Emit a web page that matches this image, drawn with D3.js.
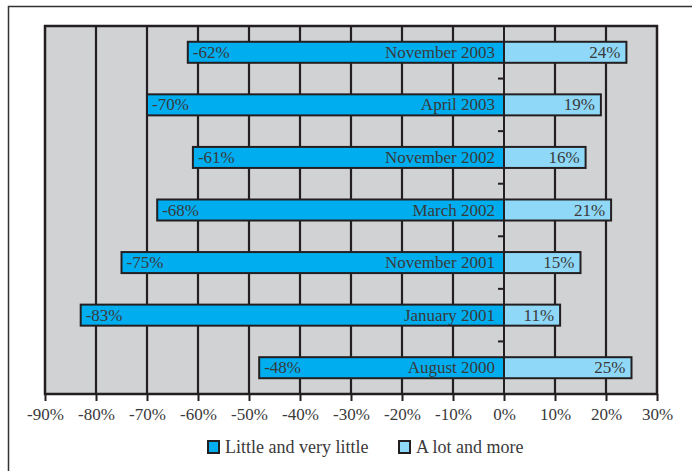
<!DOCTYPE html>
<html><head><meta charset="utf-8">
<script src="https://cdn.jsdelivr.net/npm/d3@7"></script>
<style>body{margin:0;background:#fff;} svg{display:block;}</style>
</head><body>
<svg id="c" width="692" height="471"></svg>
<script>
const categories = ["November 2003","April 2003","November 2002","March 2002","November 2001","January 2001","August 2000"];
const littleValues = [-62,-70,-61,-68,-75,-83,-48];
const lotValues = [24,19,16,21,15,11,25];
const tickValues = [-90,-80,-70,-60,-50,-40,-30,-20,-10,0,10,20,30];
const seriesNames = ["Little and very little","A lot and more"];
const colors = ["#00adef","#8fd8f7"];

const svg = d3.select("#c");
const L=45,R=657,T=26,B=394;
const x = d3.scaleLinear().domain([-90,30]).range([L,R]);
const y = d3.scaleBand().domain(categories).range([T,B]).paddingInner(0.6).paddingOuter(0.3);
const dark="#231f20", txt="#3a3a3a", font="'Liberation Serif', 'Times New Roman', serif";

// outer frame
svg.append("rect").attr("x",8.5).attr("y",6.5).attr("width",720).attr("height",500)
  .attr("fill","none").attr("stroke","#333").attr("stroke-width",1.5);

svg.append("rect").attr("x",L).attr("y",T).attr("width",R-L).attr("height",B-T).attr("fill","#d1d2d4");

// gridlines
svg.append("g").selectAll("line").data(tickValues.filter(v=>v>-90&&v<30&&v!==0)).join("line")
  .attr("x1",d=>x(d)).attr("x2",d=>x(d)).attr("y1",T).attr("y2",B)
  .attr("stroke",dark).attr("stroke-width",2.2);

const data = categories.map((c,i)=>({c,neg:littleValues[i],pos:lotValues[i]}));
const g = svg.append("g");
g.selectAll("rect.n").data(data).join("rect").attr("class","n")
  .attr("x",d=>x(d.neg)).attr("width",d=>x(0)-x(d.neg))
  .attr("y",d=>y(d.c)).attr("height",y.bandwidth())
  .attr("fill",colors[0]).attr("stroke",dark).attr("stroke-width",2);
g.selectAll("rect.p").data(data).join("rect").attr("class","p")
  .attr("x",x(0)).attr("width",d=>x(d.pos)-x(0))
  .attr("y",d=>y(d.c)).attr("height",y.bandwidth())
  .attr("fill",colors[1]).attr("stroke",dark).attr("stroke-width",2);

// plot border
svg.append("rect").attr("x",L).attr("y",T).attr("width",R-L).attr("height",B-T)
  .attr("fill","none").attr("stroke",dark).attr("stroke-width",2.5);

// zero axis
svg.append("line").attr("x1",x(0)).attr("x2",x(0)).attr("y1",T).attr("y2",B)
  .attr("stroke",dark).attr("stroke-width",2);
const step = y.step();
const bounds = categories.slice(1).map(c=>y(c)-(step-y.bandwidth())/2);
svg.append("g").selectAll("line").data(bounds).join("line")
  .attr("x1",x(0)-6).attr("x2",x(0)).attr("y1",d=>d).attr("y2",d=>d)
  .attr("stroke",dark).attr("stroke-width",2);

// bottom axis
const xAxis = svg.append("g").attr("transform",`translate(0,${B})`)
  .call(d3.axisBottom(x).tickValues(tickValues).tickFormat(d=>d+"%").tickSize(7).tickPadding(7));
xAxis.select(".domain").remove();
xAxis.selectAll("line").attr("stroke",dark).attr("stroke-width",2);
xAxis.selectAll("text").attr("font-family",font).attr("font-size",17).attr("fill",txt);

// labels
const ty = d=>y(d.c)+y.bandwidth()/2+5.5;
g.selectAll("text.nl").data(data).join("text")
  .attr("x",d=>x(d.neg)+5).attr("y",ty).text(d=>d.neg+"%")
  .attr("font-family",font).attr("font-size",17).attr("fill",txt);
g.selectAll("text.cl").data(data).join("text")
  .attr("x",x(0)-9).attr("y",ty).attr("text-anchor","end").text(d=>d.c)
  .attr("font-family",font).attr("font-size",17).attr("fill",txt);
g.selectAll("text.pl").data(data).join("text")
  .attr("x",d=>x(d.pos)-6).attr("y",ty).attr("text-anchor","end").text(d=>d.pos+"%")
  .attr("font-family",font).attr("font-size",17).attr("fill",txt);

// legend
const leg = [{n:seriesNames[0],c:colors[0],x:207},{n:seriesNames[1],c:colors[1],x:398}];
const lg = svg.append("g");
lg.selectAll("rect").data(leg).join("rect").attr("x",d=>d.x+1).attr("y",441).attr("width",11).attr("height",12)
  .attr("fill",d=>d.c).attr("stroke",dark).attr("stroke-width",2);
lg.selectAll("text").data(leg).join("text").attr("x",d=>d.x+18).attr("y",453).text(d=>d.n)
  .attr("font-family",font).attr("font-size",18).attr("fill",txt);
</script>
</body></html>
